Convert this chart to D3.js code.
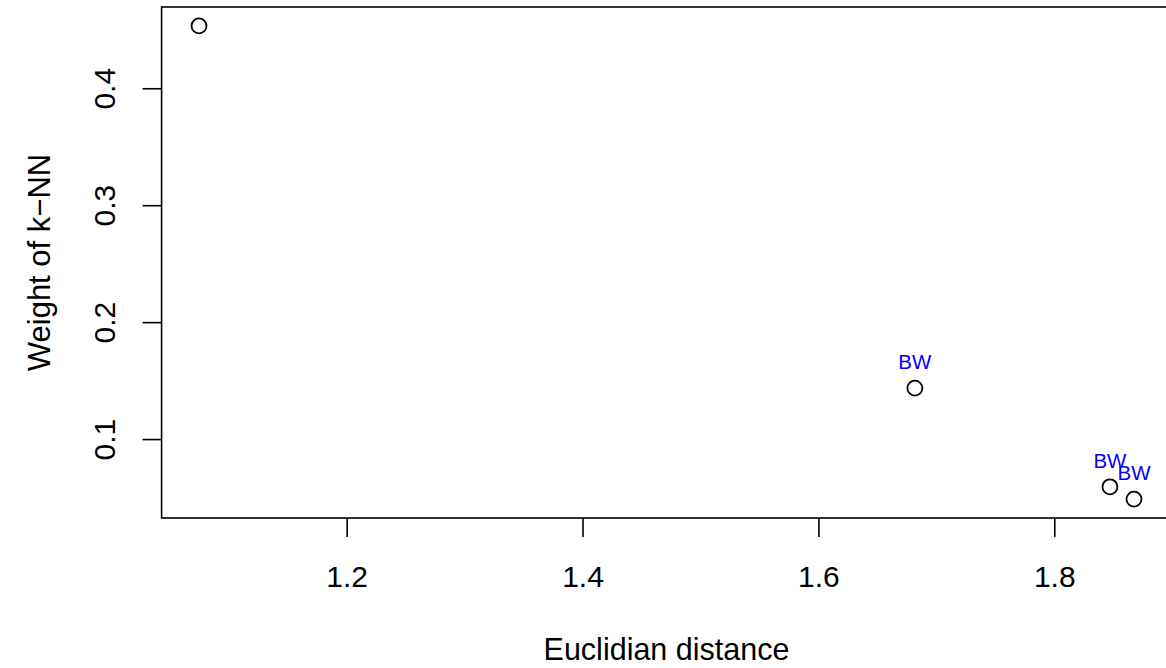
<!DOCTYPE html>
<html>
<head>
<meta charset="utf-8">
<script src="https://cdn.jsdelivr.net/npm/d3@7"></script>
<style>
  body { margin: 0; background: #fff; }
  text { font-family: "Liberation Sans", Arial, sans-serif; }
</style>
</head>
<body>
<div id="chart"></div>
<script>
// data
const distances = [1.0748, 1.6818, 1.8472, 1.8676];
const weights = [0.4533, 0.1436, 0.0592, 0.0487];
const labels = ["", "BW", "BW", "BW"];
const xTicks = [1.2, 1.4, 1.6, 1.8];
const yTicks = [0.1, 0.2, 0.3, 0.4];

const W = 1166, H = 668;
const MARGIN = { left: 161.6, top: 7, right: -5.4, bottom: 150 };

const svg = d3.select("#chart").append("svg")
  .attr("width", W).attr("height", H);

// R style 4% padding around data range
function padded(vals) {
  const [lo, hi] = d3.extent(vals);
  const p = (hi - lo) * 0.04;
  return [lo - p, hi + p];
}

const x = d3.scaleLinear().domain(padded(distances))
  .range([MARGIN.left, W - MARGIN.right]);
const y = d3.scaleLinear().domain(padded(weights))
  .range([H - MARGIN.bottom, MARGIN.top]);

const x0 = x.range()[0], x1 = x.range()[1];
const y0 = y.range()[0], y1 = y.range()[1];

// plot box
svg.append("rect")
  .attr("x", x0).attr("y", y1)
  .attr("width", x1 - x0).attr("height", y0 - y1)
  .attr("fill", "none").attr("stroke", "#000").attr("stroke-width", 1.6);

// x axis
const xAxis = svg.append("g").attr("transform", `translate(0,${y0})`)
  .call(d3.axisBottom(x).tickValues(xTicks).tickSize(19)
    .tickFormat(d3.format(".1f")));
xAxis.select(".domain").remove();
xAxis.selectAll("line").attr("stroke-width", 1.6);
xAxis.selectAll("text").attr("font-size", 30).attr("fill", "#000")
  .attr("y", 69).attr("dy", null);

// y axis
const yAxis = svg.append("g").attr("transform", `translate(${x0},0)`)
  .call(d3.axisLeft(y).tickValues(yTicks).tickSize(19).tickFormat(d3.format(".1f")));
yAxis.select(".domain").remove();
yAxis.selectAll("line").attr("stroke-width", 1.6);
yAxis.selectAll("text")
  .attr("font-size", 30).attr("fill", "#000")
  .attr("x", null)
  .attr("text-anchor", "middle")
  .attr("transform", "translate(-57,0) rotate(-90)")
  .attr("dy", "0.35em");

// axis titles
svg.append("text")
  .attr("x", (x0 + x1) / 2).attr("y", 660)
  .attr("text-anchor", "middle").attr("font-size", 30.5)
  .text("Euclidian distance");

svg.append("text")
  .attr("transform", `translate(50,${(y0 + y1) / 2}) rotate(-90)`)
  .attr("text-anchor", "middle").attr("font-size", 31)
  .text("Weight of k\u2212NN");

// points
const pts = distances.map((d, i) => ({ x: d, y: weights[i], label: labels[i] }));

svg.selectAll("circle.pt").data(pts).join("circle")
  .attr("class", "pt")
  .attr("cx", d => x(d.x)).attr("cy", d => y(d.y))
  .attr("r", 7.5)
  .attr("fill", "none").attr("stroke", "#000").attr("stroke-width", 1.8);

svg.selectAll("text.lbl").data(pts.filter(d => d.label)).join("text")
  .attr("class", "lbl")
  .attr("x", d => x(d.x)).attr("y", d => y(d.y) - 19)
  .attr("text-anchor", "middle").attr("font-size", 20.5)
  .attr("fill", "#0000ff")
  .text(d => d.label);
</script>
</body>
</html>
